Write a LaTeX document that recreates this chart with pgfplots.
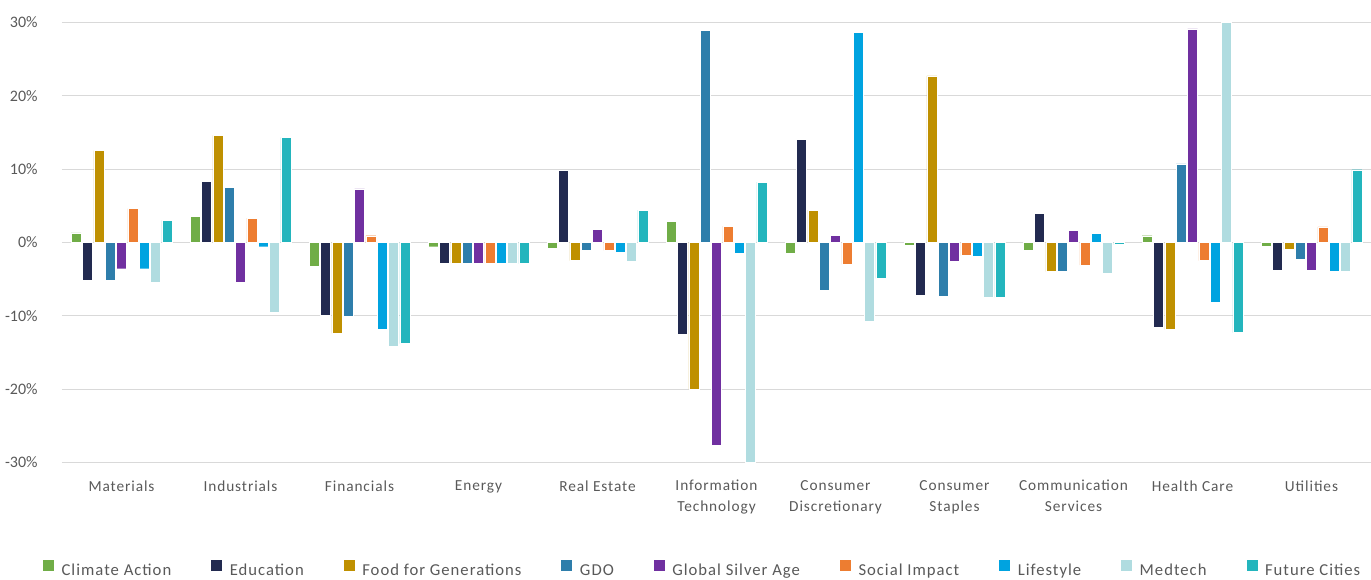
\documentclass[border=0pt]{standalone}
\usepackage{fontspec}
\setmainfont{Carlito}[LetterSpace=6]
\newfontfamily\plainfont{Carlito}
\usepackage{pgfplots}
\usepackage{pgfplotstable}
\pgfplotsset{compat=1.18}
\definecolor{cCA}{HTML}{70AD47}
\definecolor{cEdu}{HTML}{222A50}
\definecolor{cFood}{HTML}{BF9000}
\definecolor{cGDO}{HTML}{2E7EAB}
\definecolor{cGSA}{HTML}{7030A0}
\definecolor{cSoc}{HTML}{ED7D31}
\definecolor{cLife}{HTML}{00A3E0}
\definecolor{cMed}{HTML}{B0DCE0}
\definecolor{cFut}{HTML}{23B5BD}
\definecolor{txt}{HTML}{595959}
\definecolor{gridc}{HTML}{D9D9D9}

\pgfplotstableread{
x CA Edu Food GDO GSA Soc Life Med Fut
0 1.3 -5.2 12.5 -5.2 -3.6 4.6 -3.6 -5.4 3.0
1 3.5 8.3 14.6 7.5 -5.5 3.3 -0.6 -9.5 14.3
2 -3.2 -9.9 -12.4 -10.1 7.3 0.9 -11.9 -14.2 -13.8
3 -0.6 -2.8 -2.8 -2.9 -2.8 -2.8 -2.9 -2.9 -2.9
4 -0.8 9.8 -2.5 -1.1 1.8 -1.1 -1.4 -2.6 4.4
5 2.9 -12.5 -20.0 28.9 -27.7 2.2 -1.5 -30.0 8.2
6 -1.5 14.0 4.4 -6.5 1.0 -3.0 28.6 -10.8 -4.9
7 -0.4 -7.2 22.7 -7.3 -2.6 -1.8 -1.9 -7.5 -7.5
8 -1.1 4.0 -4.0 -4.0 1.6 -3.1 1.2 -4.2 -0.3
9 0.9 -11.6 -11.9 10.7 29.1 -2.5 -8.2 30.0 -12.3
10 -0.5 -3.8 -1.0 -2.3 -3.8 2.1 -4.0 -4.0 9.9
}\data

\pgfplotsset{
  mybar/.style={draw=white, line width=0.3pt,
    legend image code/.code={\fill[##1,draw=none] (0pt,0pt) rectangle (8.25pt,8.25pt); \path (11.75pt,0pt);}},
}

\begin{document}
\begin{tikzpicture}
\useasboundingbox (0,0) rectangle (1028.25pt,434.25pt);
\begin{axis}[
  at={(46.5pt,87.5pt)}, anchor=south west,
  width=981.75pt, height=330pt, scale only axis,
  xmin=-0.5, xmax=10.5, ymin=-30, ymax=30,
  ybar=1pt, bar width=7.5pt,
  axis line style={draw=none},
  ymajorgrids, grid style={gridc, line width=0.75pt},
  major tick length=0pt,
  ytick={-30,-20,-10,0,10,20,30},
  yticklabels={{-}30\%,{-}20\%,{-}10\%,0\%,10\%,20\%,30\%},
  y tick label style={font=\plainfont\fontsize{12}{14}\selectfont, text=txt, anchor=east, xshift=-14.75pt},
  xtick={0,1,2,3,4,5,6,7,8,9,10},
  xticklabels={Materials, Industrials, Financials, Energy, Real Estate, {Information\\Technology}, {Consumer\\Discretionary}, {Consumer\\Staples}, {Communication\\Services}, Health Care, Utilities},
  x tick label style={font=\fontsize{11.5}{15.75}\selectfont, text=txt, align=center, anchor=north, yshift=-10pt},
  legend columns=9,
  legend style={at={(0.4897,-0.2448)}, anchor=center, draw=none, fill=none,
    font=\fontsize{12.5}{15}\selectfont, text=txt,
    /tikz/every even column/.append style={column sep=28pt}},
]
\addplot[mybar, fill=cCA] table[x=x, y=CA] {\data};
\addplot[mybar, fill=cEdu] table[x=x, y=Edu] {\data};
\addplot[mybar, fill=cFood] table[x=x, y=Food] {\data};
\addplot[mybar, fill=cGDO] table[x=x, y=GDO] {\data};
\addplot[mybar, fill=cGSA] table[x=x, y=GSA] {\data};
\addplot[mybar, fill=cSoc] table[x=x, y=Soc] {\data};
\addplot[mybar, fill=cLife] table[x=x, y=Life] {\data};
\addplot[mybar, fill=cMed] table[x=x, y=Med] {\data};
\addplot[mybar, fill=cFut] table[x=x, y=Fut] {\data};
\legend{Climate Action, Education, Food for Generations, GDO, Global Silver Age, Social Impact, Lifestyle, Medtech, Future Cities}
\end{axis}
\end{tikzpicture}
\end{document}
